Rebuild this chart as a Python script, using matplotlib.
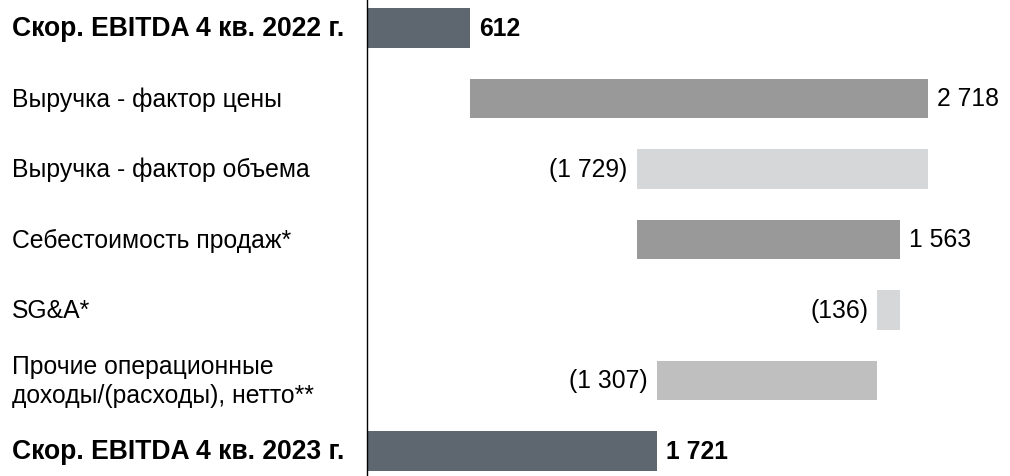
import matplotlib
matplotlib.use("Agg")
import matplotlib.pyplot as plt
import matplotlib.transforms as mtransforms

plt.rcParams['font.family'] = ['Liberation Sans', 'DejaVu Sans']

categories = [
    "Скор. EBITDA 4 кв. 2022 г.",
    "Выручка - фактор цены",
    "Выручка - фактор объема",
    "Себестоимость продаж*",
    "SG&A*",
    "Прочие операционные\nдоходы/(расходы), нетто**",
    "Скор. EBITDA 4 кв. 2023 г.",
]
values = [612, 2718, -1729, 1563, -136, -1307, 1721]
is_total = [True, False, False, False, False, False, True]
value_labels = ["612", "2 718", "(1 729)", "1 563", "(136)", "(1 307)", "1 721"]
colors = ["#5E6670", "#999999", "#D6D7D9", "#999999", "#D6D7D9", "#BFBFBF", "#5E6670"]

FS = 17.8
FS_BOLD_CAT = 19.1

fig = plt.figure(figsize=(10.10, 4.77), dpi=100)
ax = fig.add_axes([367 / 1010, 0, 1 - 367 / 1010, 1])

running = 0
for i, (v, tot, lab, c) in enumerate(zip(values, is_total, value_labels, colors)):
    if tot:
        left, width = 0, v
        running = v
    else:
        left = running if v >= 0 else running + v
        width = abs(v)
        running += v
    ax.barh(i, width, left=left, height=0.56, color=c, edgecolor='none')
    if v >= 0:
        ax.annotate(lab, (left + width, i), xytext=(6.5, 0), textcoords='offset points',
                    ha='left', va='center', fontsize=FS,
                    fontweight='bold' if tot else 'normal', color='black')
    else:
        ax.annotate(lab, (left, i), xytext=(-6.5, 0), textcoords='offset points',
                    ha='right', va='center', fontsize=FS, color='black')

trans = mtransforms.blended_transform_factory(fig.transFigure, ax.transData)
for i, (cat, tot) in enumerate(zip(categories, is_total)):
    fig.text(12 / 1010, i, cat, transform=trans, ha='left', va='center',
             fontsize=FS_BOLD_CAT if tot else FS,
             fontweight='bold' if tot else 'normal',
             color='black', linespacing=1.3)

ax.set_xlim(0, 3816)
ax.set_ylim(6 + 25 / 70.5, -29 / 70.5)
for s in ['top', 'right', 'bottom']:
    ax.spines[s].set_visible(False)
ax.spines['left'].set_color('black')
ax.spines['left'].set_linewidth(1.0)
ax.set_xticks([])
ax.set_yticks([])

fig.savefig("out.png", dpi=100)
